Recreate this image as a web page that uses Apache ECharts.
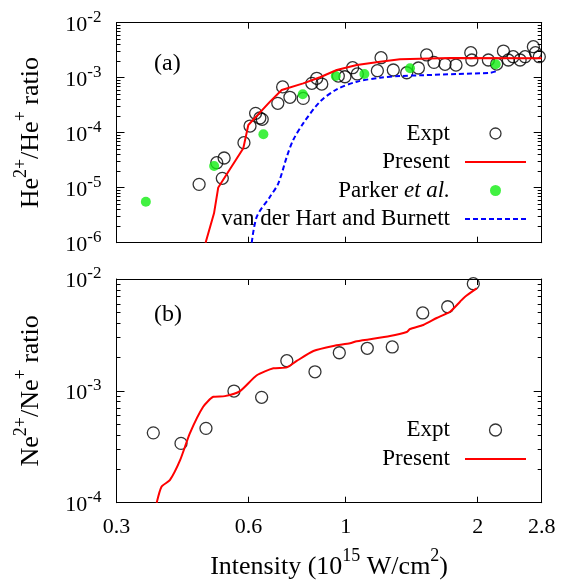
<!DOCTYPE html>
<html>
<head>
<meta charset="utf-8">
<script src="https://cdn.jsdelivr.net/npm/echarts@6/dist/echarts.min.js"></script>
<style>
  html, body { margin: 0; padding: 0; background: #fff; }
  #chart { width: 566px; height: 582px; }
</style>
</head>
<body>
<div id="chart"></div>
<script>
// intensity in 10^15 W/cm^2, ratios
var exptHeI = [0.463, 0.508, 0.523, 0.528, 0.586, 0.605, 0.623, 0.637, 0.645, 0.700, 0.718, 0.746, 0.800, 0.837,
  0.859, 0.882, 0.962, 0.996, 1.037, 1.063, 1.181, 1.204, 1.284, 1.378, 1.465, 1.53, 1.59, 1.685, 1.785, 1.929,
  1.94, 2.116, 2.21, 2.29, 2.35, 2.41, 2.50, 2.566, 2.68, 2.71, 2.765];
var exptHeR = [1.15e-5, 2.85e-5, 1.48e-5, 3.47e-5, 6.58e-5, 1.32e-4, 2.25e-4, 1.85e-4, 1.75e-4, 3.42e-4, 6.8e-4, 4.4e-4, 4.2e-4, 7.9e-4,
  9.75e-4, 7.67e-4, 1.07e-3, 1.04e-3, 1.52e-3, 1.17e-3, 1.34e-3, 2.31e-3, 1.38e-3, 1.23e-3, 1.5e-3, 2.59e-3, 1.9e-3, 1.75e-3, 1.70e-3, 2.85e-3,
  2.1e-3, 2.1e-3, 1.77e-3, 3.05e-3, 2.1e-3, 2.41e-3, 2.1e-3, 2.41e-3, 3.66e-3, 2.85e-3, 2.41e-3];

var presentHeI = [0.479, 0.5007, 0.512, 0.584, 0.5996, 0.672, 0.7145, 0.80, 0.874, 0.954, 1.06, 1.198, 1.33, 1.73, 2.8];
var presentHeR = [1e-6, 3.42e-6, 1.01e-5, 5.2e-5, 1.38e-4, 3.67e-4, 5.97e-4, 7.9e-4, 1.02e-3, 1.38e-3, 1.70e-3, 1.95e-3, 2.16e-3, 2.28e-3, 2.25e-3];

var parkerI = [0.35, 0.501, 0.649, 0.798, 0.949, 1.103, 1.402, 2.199];
var parkerR = [5.56e-6, 2.48e-5, 9.35e-5, 4.99e-4, 1.07e-3, 1.17e-3, 1.48e-3, 1.75e-3];

var vdhbI = [0.6105, 0.627, 0.672, 0.702, 0.734, 0.759, 0.80, 0.874, 0.954, 1.06, 1.198, 1.33, 1.503, 1.792, 2.133, 2.21];
var vdhbR = [1e-6, 2.97e-6, 6.86e-6, 1.2e-5, 3.66e-5, 7.36e-5, 1.48e-4, 3.67e-4, 6.15e-4, 8.46e-4, 1.0e-3, 1.07e-3, 1.11e-3, 1.17e-3, 1.23e-3, 1.32e-3];

var exptNeI = [0.364, 0.421, 0.48, 0.556, 0.643, 0.734, 0.851, 0.967, 1.12, 1.277, 1.499, 1.709, 1.955];
var exptNeR = [4.21e-4, 3.39e-4, 4.62e-4, 9.96e-4, 8.75e-4, 1.86e-3, 1.48e-3, 2.19e-3, 2.4e-3, 2.47e-3, 4.97e-3, 5.65e-3, 9.08e-3];

var presentNeI = [0.3705, 0.380, 0.397, 0.419, 0.441, 0.473, 0.499, 0.530, 0.574, 0.627, 0.684, 0.734, 0.773,
  0.844, 0.937, 1.023, 1.06, 1.262, 1.378, 1.402, 1.503, 1.613, 1.73, 1.823, 1.872, 1.99];
var presentNeR = [1e-4, 1.39e-4, 1.59e-4, 2.4e-4, 4.17e-4, 7.21e-4, 8.85e-4, 8.97e-4, 9.96e-4, 1.38e-3, 1.59e-3, 1.62e-3, 1.85e-3,
  2.27e-3, 2.52e-3, 2.66e-3, 2.78e-3, 3.09e-3, 3.36e-3, 3.57e-3, 3.88e-3, 4.48e-3, 5.1e-3, 6.26e-3, 6.95e-3, 8.25e-3];

// ticks
var xLabels = [0.3, 0.6, 1, 2, 2.8];
var xTicks = [0.6, 1, 2];
var yTicksA = [1e-6, 1e-5, 1e-4, 1e-3, 1e-2];
var yTicksB = [1e-4, 1e-3, 1e-2];

function minorTicks(decades) {
  var out = [];
  for (var d = 0; d < decades.length - 1; d++) {
    for (var k = 2; k <= 9; k++) out.push(+(decades[d] * k).toPrecision(3));
  }
  return out;
}
function zip(xs, ys) {
  return xs.map(function (x, i) { return [x, ys[i]]; });
}

var FONT = 'Liberation Serif';
var sup = { fontFamily: FONT, fontSize: 17, color: '#000', verticalAlign: 'top' };
var base = { fontFamily: FONT, fontSize: 22, color: '#000', padding: [5, 0, 0, 0] };
var nameRich = {
  s: { fontFamily: FONT, fontSize: 18, color: '#000', verticalAlign: 'top' },
  n: { fontFamily: FONT, fontSize: 26, color: '#000', padding: [6, 0, 0, 0] }
};

var chart = echarts.init(document.getElementById('chart'));

function xAxis(grid, pos, labels, name) {
  return {
    type: 'log', gridIndex: grid, position: pos, min: 0.3, max: 2.8,
    axisLine: { show: true, lineStyle: { color: '#000', width: 1 } },
    axisTick: { show: true, inside: true, length: 6, customValues: xTicks, lineStyle: { color: '#000' } },
    axisLabel: labels ? {
      show: true, customValues: xLabels, margin: 14,
      fontFamily: FONT, fontSize: 22, color: '#000',
      formatter: function (v) { return String(+v.toPrecision(3)); }
    } : { show: false },
    splitLine: { show: false },
    name: name || '', nameLocation: 'middle', nameGap: 45,
    nameTextStyle: { fontFamily: FONT, fontSize: 26, color: '#000', rich: nameRich }
  };
}

function yAxis(grid, pos, min, max, ticks, minor, labels, name) {
  return {
    type: 'log', gridIndex: grid, position: pos, min: min, max: max,
    axisLine: { show: !minor, lineStyle: { color: '#000', width: 1 } },
    axisTick: { show: true, inside: true, length: minor ? 4 : 8, customValues: minor ? minorTicks(ticks) : ticks,
                lineStyle: { color: '#000' } },
    axisLabel: labels ? {
      show: true, customValues: ticks, margin: 15,
      formatter: function (v) { return '{b|10}{s|' + Math.round(Math.log10(v)) + '}'; },
      rich: { b: base, s: sup }
    } : { show: false },
    splitLine: { show: false },
    name: name || '', nameLocation: 'middle', nameRotate: 90, nameGap: 72,
    nameTextStyle: { fontFamily: FONT, fontSize: 26, color: '#000', rich: nameRich }
  };
}

var legendText = {
  fontFamily: FONT, fontSize: 23, color: '#000', lineHeight: 23, padding: [0, 10, 0, 0],
  rich: { n: { fontFamily: FONT, fontSize: 23, color: '#000' },
          i: { fontFamily: FONT, fontSize: 23, color: '#000', fontStyle: 'italic' } }
};
function legendFmt(name) {
  if (name === 'Parker et al.') return '{n|Parker }{i|et al.}';
  return '{n|' + name + '}';
}
// legend entries: line samples carry no marker, circles keep a thin border
var lineEntry = function (name) { return { name: name, itemStyle: { opacity: 0 } }; };
var exptEntry = { name: 'Expt', itemStyle: { color: 'rgba(0,0,0,0)', borderColor: '#000', borderWidth: 1.3 } };

var exptStyle = { color: 'rgba(0,0,0,0)', borderColor: '#000', borderWidth: 1.3 };

chart.setOption({
  animation: false,
  backgroundColor: '#fff',
  grid: [
    { left: 116.5, top: 22.7, width: 425.2, height: 220 },
    { left: 116.5, top: 279, width: 425.2, height: 223.7 }
  ],
  xAxis: [
    xAxis(0, 'bottom', false),
    xAxis(0, 'top', false),
    xAxis(1, 'bottom', true, '{n|Intensity (10}{s|15}{n| W/cm}{s|2}{n|)}'),
    xAxis(1, 'top', false)
  ],
  yAxis: [
    yAxis(0, 'left', 1e-6, 1e-2, yTicksA, false, true, '{n|He}{s|2+}{n|/He}{s|+}{n| ratio}'),
    yAxis(0, 'left', 1e-6, 1e-2, yTicksA, true, false),
    yAxis(0, 'right', 1e-6, 1e-2, yTicksA, false, false),
    yAxis(0, 'right', 1e-6, 1e-2, yTicksA, true, false),
    yAxis(1, 'left', 1e-4, 1e-2, yTicksB, false, true, '{n|Ne}{s|2+}{n|/Ne}{s|+}{n| ratio}'),
    yAxis(1, 'left', 1e-4, 1e-2, yTicksB, true, false),
    yAxis(1, 'right', 1e-4, 1e-2, yTicksB, false, false),
    yAxis(1, 'right', 1e-4, 1e-2, yTicksB, true, false)
  ],
  legend: [
    {
      orient: 'vertical', align: 'right', right: 39, top: 122, itemGap: 5.5, padding: 0,
      itemWidth: 61, itemHeight: 11,
      data: [exptEntry, lineEntry('Present'), 'Parker et al.', lineEntry('van der Hart and Burnett')],
      formatter: legendFmt, textStyle: legendText, selectedMode: false
    },
    {
      orient: 'vertical', align: 'right', right: 39, top: 418.5, itemGap: 6, padding: 0,
      itemWidth: 61, itemHeight: 12,
      data: [exptEntry, lineEntry('Present')],
      formatter: legendFmt, textStyle: legendText, selectedMode: false
    }
  ],
  graphic: [
    { type: 'text', left: 154, top: 52, style: { text: '(a)', font: '24px "Liberation Serif"', fill: '#000' } },
    { type: 'text', left: 154, top: 303, style: { text: '(b)', font: '24px "Liberation Serif"', fill: '#000' } }
  ],
  series: [
    {
      name: 'Expt', type: 'scatter', xAxisIndex: 0, yAxisIndex: 0,
      symbol: 'circle', symbolSize: 12, itemStyle: exptStyle,
      data: zip(exptHeI, exptHeR)
    },
    {
      name: 'Present', type: 'line', xAxisIndex: 0, yAxisIndex: 0,
      showSymbol: false, symbol: 'none', lineStyle: { color: '#ff0000', width: 2 }, itemStyle: { color: '#ff0000' },
      data: zip(presentHeI, presentHeR)
    },
    {
      name: 'Parker et al.', type: 'scatter', xAxisIndex: 0, yAxisIndex: 0,
      symbol: 'circle', symbolSize: 10, itemStyle: { color: '#11ee11' },
      data: zip(parkerI, parkerR)
    },
    {
      name: 'van der Hart and Burnett', type: 'line', xAxisIndex: 0, yAxisIndex: 0,
      showSymbol: false, symbol: 'none', smooth: 0.3,
      lineStyle: { color: '#0000ff', width: 2, type: [5, 3] }, itemStyle: { color: '#0000ff' },
      data: zip(vdhbI, vdhbR)
    },
    {
      name: 'Expt', type: 'scatter', xAxisIndex: 2, yAxisIndex: 4,
      symbol: 'circle', symbolSize: 12, itemStyle: exptStyle,
      data: zip(exptNeI, exptNeR)
    },
    {
      name: 'Present', type: 'line', xAxisIndex: 2, yAxisIndex: 4,
      showSymbol: false, symbol: 'none', smooth: 0.2,
      lineStyle: { color: '#ff0000', width: 2 }, itemStyle: { color: '#ff0000' },
      data: zip(presentNeI, presentNeR)
    }
  ]
});
</script>
</body>
</html>
